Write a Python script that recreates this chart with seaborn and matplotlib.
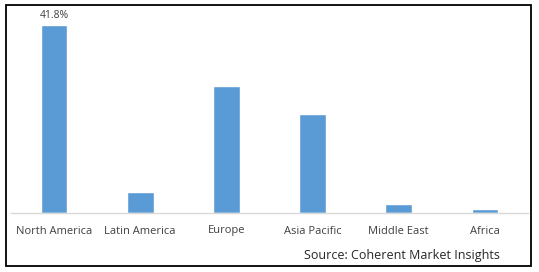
import matplotlib
matplotlib.use("Agg")
import matplotlib.pyplot as plt
import seaborn as sns
import pandas as pd
from matplotlib.patches import Rectangle

regions = ["North America", "Latin America", "Europe", "Asia Pacific", "Middle East", "Africa"]
shares = [41.8, 4.7, 28.2, 22.0, 2.0, 0.9]
label_text = ["41.8%", "", "", "", "", ""]
source = "Source: Coherent Market Insights"

sns.set_theme(style="white")
plt.rcParams['font.family'] = ['Open Sans', 'DejaVu Sans']

df = pd.DataFrame({"region": regions, "share": shares})

W, H = 539, 272
fig = plt.figure(figsize=(W / 100, H / 100), dpi=100)
ax = fig.add_axes([11 / W, 59 / H, (528 - 11) / W, (213 - 10) / H])

sns.barplot(data=df, x="region", y="share", color="#5B9BD5", width=0.31,
            saturation=1, ax=ax, order=regions)

ax.set_ylim(0, 41.8 * 203 / 188)
ax.set_xlim(-0.5, len(regions) - 0.5)
ax.set_xlabel("")
ax.set_ylabel("")
ax.set_yticks([])
for s in ["top", "right", "left"]:
    ax.spines[s].set_visible(False)
ax.spines["bottom"].set_color("#D9D9D9")
ax.spines["bottom"].set_linewidth(1.0)
ax.tick_params(axis="x", length=0, pad=9, labelsize=8, labelcolor="#404040")

for i, (v, t) in enumerate(zip(shares, label_text)):
    if t:
        ax.annotate(t, xy=(i, v), xytext=(0, 3), textcoords="offset points",
                    ha="center", va="bottom", fontsize=7.5, color="#404040")

fig.text(500 / W, 1 - 256 / H, source, ha="right", va="center", fontsize=9, color="#262626")

fig.patches.append(Rectangle((5.5 / W, 1 - 266 / H), (531 - 5.5) / W, (266 - 4.5) / H,
                             transform=fig.transFigure, fill=False, edgecolor="black",
                             linewidth=1.3))

fig.savefig("out.png", dpi=100)
